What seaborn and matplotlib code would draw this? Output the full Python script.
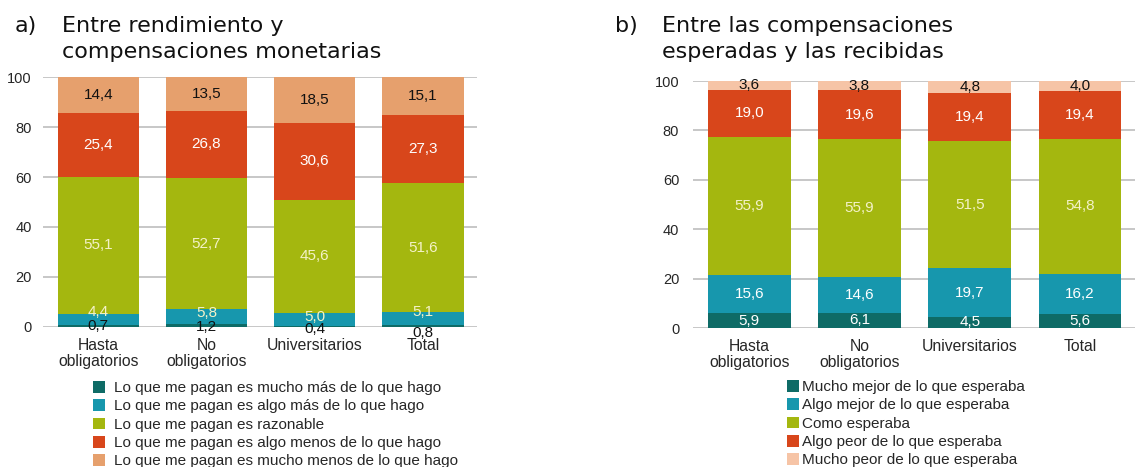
import numpy as np
import pandas as pd
import matplotlib
matplotlib.use("Agg")
import matplotlib.pyplot as plt
import seaborn as sns
from matplotlib.patches import Patch

# ---------------- data ----------------
categories = ["Hasta\nobligatorios", "No\nobligatorios", "Universitarios", "Total"]

# panel a
a_labels = [
    "Lo que me pagan es mucho más de lo que hago",
    "Lo que me pagan es algo más de lo que hago",
    "Lo que me pagan es razonable",
    "Lo que me pagan es algo menos de lo que hago",
    "Lo que me pagan es mucho menos de lo que hago",
]
a_mucho_mas = [0.7, 1.2, 0.4, 0.8]
a_algo_mas = [4.4, 5.8, 5.0, 5.1]
a_razonable = [55.1, 52.7, 45.6, 51.6]
a_algo_menos = [25.4, 26.8, 30.6, 27.3]
a_mucho_menos = [14.4, 13.5, 18.5, 15.1]

# panel b
b_labels = [
    "Mucho mejor de lo que esperaba",
    "Algo mejor de lo que esperaba",
    "Como esperaba",
    "Algo peor de lo que esperaba",
    "Mucho peor de lo que esperaba",
]
b_mucho_mejor = [5.9, 6.1, 4.5, 5.6]
b_algo_mejor = [15.6, 14.6, 19.7, 16.2]
b_como = [55.9, 55.9, 51.5, 54.8]
b_algo_peor = [19.0, 19.6, 19.4, 19.4]
b_mucho_peor = [3.6, 3.8, 4.8, 4.0]

yticks = [0, 20, 40, 60, 80, 100]

# ---------------- style ----------------
sns.set_theme(style="white")
plt.rcParams["font.family"] = ["Liberation Sans", "DejaVu Sans"]

colors_a = ["#0e6b66", "#1797ad", "#a4b70f", "#d8461b", "#e6a06d"]
colors_b = ["#0e6b66", "#1797ad", "#a4b70f", "#d8461b", "#f6c4a6"]
GREENTXT = "#f4f2c8"

fig = plt.figure(figsize=(11.44, 4.67), dpi=100)
axa = fig.add_axes([0.0376, 0.2998, 0.3794, 0.5353])
axb = fig.add_axes([0.6058, 0.2976, 0.3864, 0.5289])


def draw_panel(ax, series, colors, txtcolors, small_offsets):
    df = pd.DataFrame({"cat": categories})
    cum = np.cumsum(np.array(series), axis=0)
    # draw cumulative tops from highest layer to lowest
    for i in range(len(series) - 1, -1, -1):
        df["v"] = cum[i]
        sns.barplot(data=df, x="cat", y="v", color=colors[i], saturation=1,
                    width=0.75, ax=ax, zorder=3, linewidth=0, errorbar=None)
    # labels
    for i, s in enumerate(series):
        for j, v in enumerate(s):
            base = cum[i][j] - v
            y = base + v / 2
            if small_offsets is not None and small_offsets[i] is not None:
                y = small_offsets[i][j]
            ax.text(j, y, f"{v:.1f}".replace(".", ","), ha="center", va="center",
                    fontsize=11, color=txtcolors[i], zorder=5)
    ax.set_ylim(0, 100)
    ax.set_xlim(-0.51, 3.5)
    ax.set_yticks(yticks)
    ax.set_yticklabels([str(t) for t in yticks], fontsize=10.5)
    ax.set_xlabel("")
    ax.set_ylabel("")
    ax.yaxis.grid(True, color="#c3c3c3", linewidth=1.3, zorder=0)
    ax.set_axisbelow(True)
    for sp in ax.spines.values():
        sp.set_visible(False)
    ax.tick_params(axis="both", length=0)
    ax.tick_params(axis="x", labelsize=11.3, pad=8)
    for lab in ax.get_xticklabels():
        lab.set_verticalalignment("top")
        lab.set_linespacing(1.1)


draw_panel(
    axa,
    [a_mucho_mas, a_algo_mas, a_razonable, a_algo_menos, a_mucho_menos],
    colors_a,
    ["#111111", GREENTXT, GREENTXT, "white", "#111111"],
    [[0.2, 0.0, -1.0, -2.6], [6.0, 5.6, 4.0, 6.0], None, None, None],
)
axa.tick_params(axis="y", pad=8)

draw_panel(
    axb,
    [b_mucho_mejor, b_algo_mejor, b_como, b_algo_peor, b_mucho_peor],
    colors_b,
    ["white", "white", GREENTXT, "white", "#111111"],
    None,
)
axb.tick_params(axis="y", pad=10)

# titles
tfont = dict(family="DejaVu Sans", fontsize=16, color="#111111", va="baseline")
fig.text(15 / 1144, 1 - 32 / 467, "a)", **tfont)
fig.text(62 / 1144, 1 - 32 / 467, "Entre rendimiento y", **tfont)
fig.text(62 / 1144, 1 - 58 / 467, "compensaciones monetarias", **tfont)
fig.text(615 / 1144, 1 - 32 / 467, "b)", **tfont)
fig.text(662 / 1144, 1 - 32 / 467, "Entre las compensaciones", **tfont)
fig.text(662 / 1144, 1 - 58 / 467, "esperadas y las recibidas", **tfont)

# legends
ha = [Patch(facecolor=c, edgecolor="none") for c in colors_a]
fig.legend(ha, a_labels, loc="upper left", bbox_to_anchor=(93 / 1144, 1 - 381 / 467),
           frameon=False, fontsize=11, handlelength=0.8, handleheight=0.8,
           handletextpad=0.6, labelspacing=0.27, borderpad=0, borderaxespad=0)
hb = [Patch(facecolor=c, edgecolor="none") for c in colors_b]
fig.legend(hb, b_labels, loc="upper left", bbox_to_anchor=(787 / 1144, 1 - 380 / 467),
           frameon=False, fontsize=11, handlelength=0.8, handleheight=0.8,
           handletextpad=0.2, labelspacing=0.27, borderpad=0, borderaxespad=0)

fig.savefig("out.png", dpi=100, facecolor="white")
